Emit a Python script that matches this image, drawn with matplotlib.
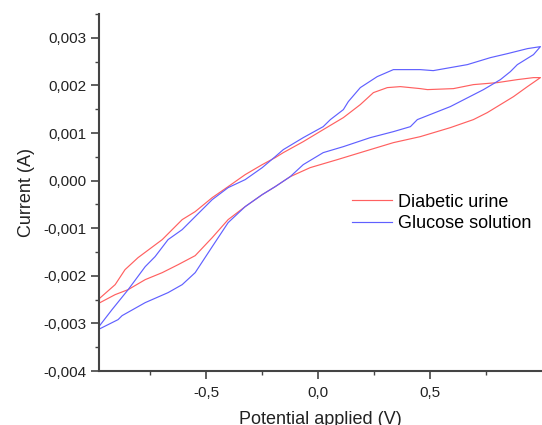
import matplotlib
matplotlib.use("Agg")
from matplotlib import pyplot as plt
from matplotlib.ticker import FuncFormatter, MultipleLocator, FixedLocator
import numpy as np

plt.rcParams['font.family'] = ['Liberation Sans', 'DejaVu Sans']

# values (x in V, current in mA -> converted to A below)
urine_up_x = [-0.982, -0.906, -0.862, -0.804, -0.696, -0.607, -0.549, -0.473, -0.402, -0.326, -0.25, -0.192,
              -0.156, -0.067, 0.022, 0.112, 0.1875, 0.246, 0.308, 0.366, 0.455, 0.487, 0.603, 0.692, 0.799,
              0.888, 0.960, 0.991]
urine_up_y = [-2.50, -2.185, -1.870, -1.618, -1.239, -0.819, -0.651, -0.357, -0.126, 0.126, 0.336, 0.483,
              0.588, 0.819, 1.071, 1.324, 1.597, 1.849, 1.954, 1.975, 1.933, 1.912, 1.933, 2.017, 2.059,
              2.122, 2.164, 2.164]
urine_down_x = [-0.982, -0.906, -0.848, -0.772, -0.696, -0.625, -0.549, -0.473, -0.402, -0.326, -0.25, -0.192,
                -0.125, -0.036, 0.085, 0.1875, 0.335, 0.455, 0.589, 0.692, 0.754, 0.8125, 0.871, 0.933, 0.991]
urine_down_y = [-2.584, -2.395, -2.290, -2.080, -1.933, -1.765, -1.576, -1.197, -0.819, -0.546, -0.294, -0.126,
                0.084, 0.273, 0.441, 0.588, 0.798, 0.924, 1.113, 1.282, 1.429, 1.597, 1.765, 1.975, 2.164]

gluc_up_x = [-0.982, -0.920, -0.848, -0.772, -0.728, -0.670, -0.607, -0.549, -0.473, -0.402, -0.326, -0.25,
             -0.192, -0.156, -0.067, 0.022, 0.054, 0.112, 0.134, 0.1875, 0.263, 0.335, 0.455, 0.513, 0.665,
             0.768, 0.844, 0.933, 0.991]
gluc_up_y = [-3.088, -2.710, -2.290, -1.807, -1.597, -1.239, -1.029, -0.756, -0.399, -0.147, 0.021, 0.273,
             0.504, 0.651, 0.903, 1.134, 1.282, 1.492, 1.660, 1.954, 2.185, 2.332, 2.332, 2.311, 2.437,
             2.584, 2.668, 2.773, 2.815]
gluc_down_x = [-0.982, -0.9375, -0.893, -0.875, -0.772, -0.670, -0.607, -0.549, -0.473, -0.402, -0.326, -0.25,
               -0.192, -0.125, -0.067, 0.022, 0.112, 0.232, 0.335, 0.411, 0.442, 0.589, 0.737, 0.8125, 0.857,
               0.888, 0.960, 0.991]
gluc_down_y = [-3.130, -3.025, -2.920, -2.836, -2.563, -2.353, -2.185, -1.933, -1.387, -0.882, -0.546, -0.294,
               -0.126, 0.084, 0.336, 0.588, 0.714, 0.903, 1.029, 1.134, 1.282, 1.555, 1.912, 2.122, 2.290,
               2.437, 2.647, 2.815]

labels = ['Diabetic urine', 'Glucose solution']
x_ticks = [-0.5, 0.0, 0.5]
x_minor = [-0.75, -0.25, 0.25, 0.75]


def loop(up_x, up_y, down_x, down_y):
    # lower branch left->right, then upper branch back right->left
    x = np.concatenate([down_x, up_x[::-1]])
    y = np.concatenate([down_y, up_y[::-1]]) * 1e-3
    return x, y


def comma_fmt(decimals):
    def f(v, pos):
        s = f"{v:.{decimals}f}"
        if float(s) == 0:
            s = s.lstrip('-')
        return s.replace('.', ',')
    return FuncFormatter(f)


fig = plt.figure(figsize=(5.42, 4.25), dpi=100)
ax = fig.add_axes([0.1827, 0.127, 0.8173, 0.840])

ux, uy = loop(urine_up_x, urine_up_y, urine_down_x, urine_down_y)
gx, gy = loop(gluc_up_x, gluc_up_y, gluc_down_x, gluc_down_y)
ax.plot(ux, uy, color='#ff6060', lw=0.85, label=labels[0])
ax.plot(gx, gy, color='#6060ff', lw=0.85, label=labels[1])

ax.set_xlim(-0.978, 0.998)
ax.set_ylim(-0.004, 0.0035)
ax.xaxis.set_major_locator(FixedLocator(x_ticks))
ax.xaxis.set_minor_locator(FixedLocator(x_minor))
ax.yaxis.set_major_locator(MultipleLocator(0.001))
ax.yaxis.set_minor_locator(MultipleLocator(0.0005))
ax.xaxis.set_major_formatter(comma_fmt(1))
ax.yaxis.set_major_formatter(comma_fmt(3))

for s in ['top', 'right']:
    ax.spines[s].set_visible(False)
for s in ['left', 'bottom']:
    ax.spines[s].set_linewidth(1.5)
    ax.spines[s].set_color('#444444')
ax.tick_params(which='major', length=6, width=1.2, color='#444444', labelsize=11, labelcolor='#222222', pad=3)
ax.tick_params(which='minor', length=3, width=1.0, color='#444444')
ax.tick_params(axis='x', which='major', pad=5)

ax.set_xlabel('Potential applied (V)', fontsize=13, color='#222222', labelpad=8)
ax.set_ylabel('Current (A)', fontsize=13, color='#222222', labelpad=6)

ax.legend(frameon=False, fontsize=13, loc='upper left', bbox_to_anchor=(0.555, 0.517),
          handlelength=2.2, handletextpad=0.35, labelspacing=0.25, borderaxespad=0)

fig.savefig('out.png', dpi=100)
